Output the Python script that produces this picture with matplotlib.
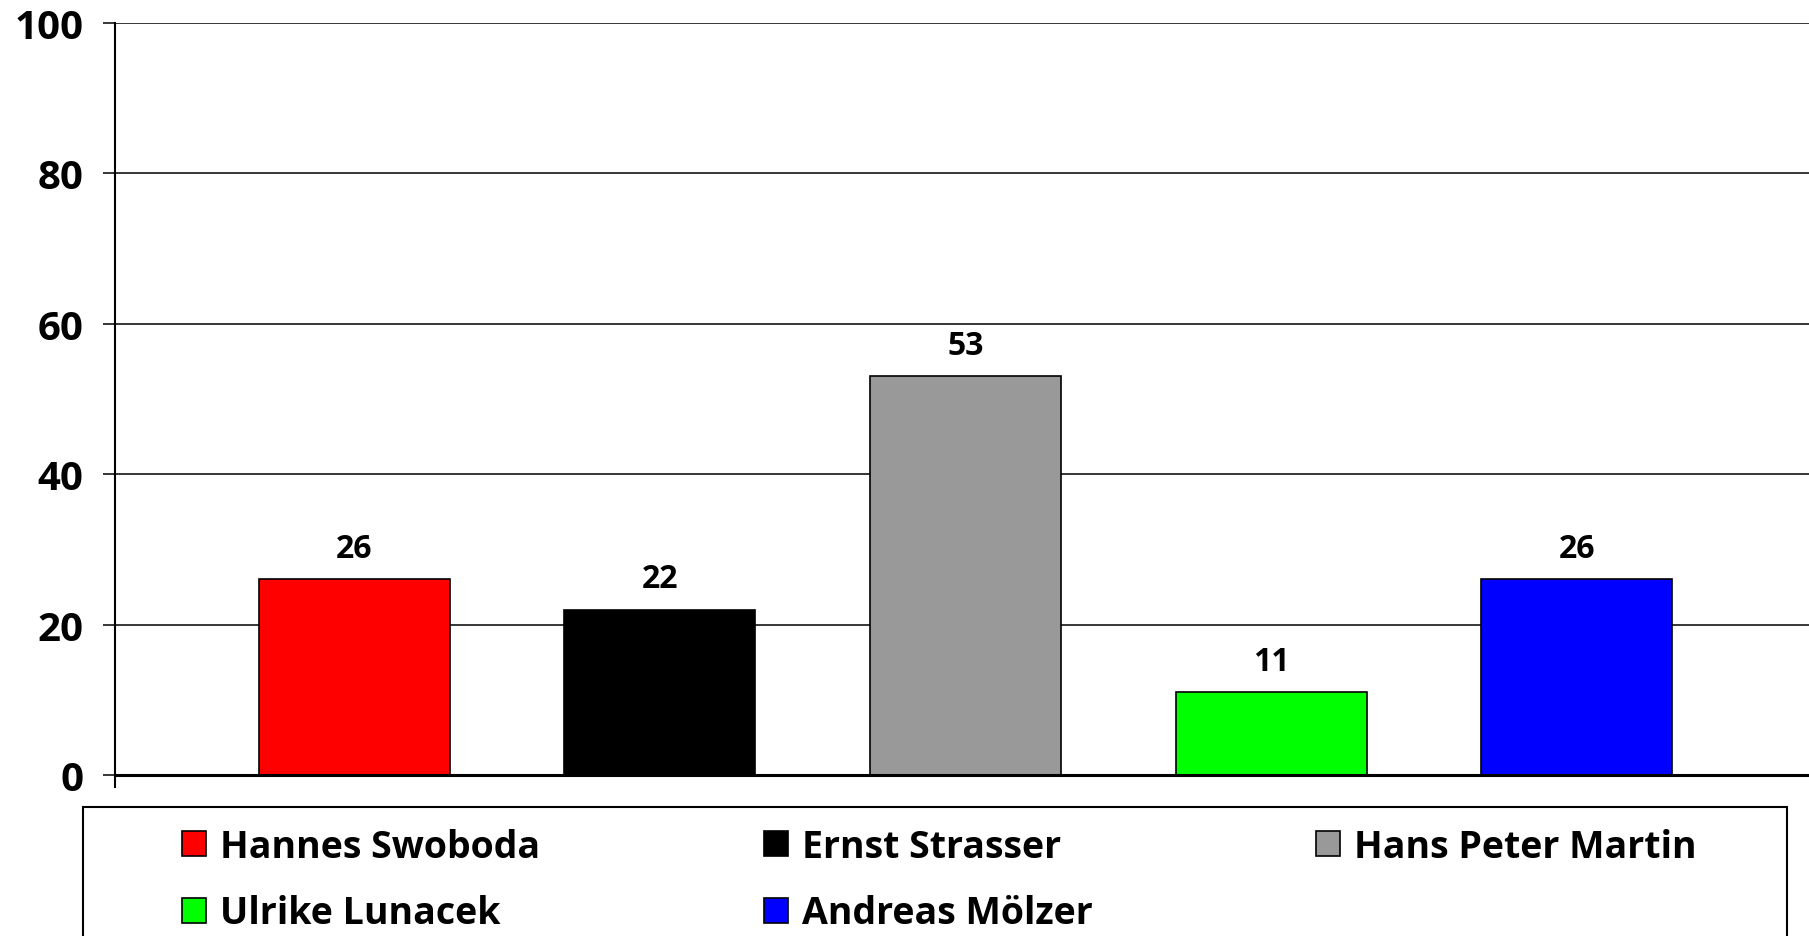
import matplotlib.pyplot as plt
from matplotlib.patches import Rectangle, Patch

candidates = ["Hannes Swoboda", "Ernst Strasser", "Hans Peter Martin",
              "Ulrike Lunacek", "Andreas Mölzer"]
values = [26, 22, 53, 11, 26]
colors = ["#ff0000", "#000000", "#999999", "#00ff00", "#0000ff"]
yticks = [0, 20, 40, 60, 80, 100]

plt.rcParams['font.family'] = ['Open Sans', 'DejaVu Sans']

fig = plt.figure(figsize=(18.09, 9.37), dpi=100)
ax = fig.add_axes([115 / 1809, 149 / 937, 1 - 115 / 1809, (788 - 24) / 937])

x = list(range(len(values)))
ax.bar(x, values, width=0.625, color=colors, edgecolor='black', linewidth=1.2, zorder=3)

for xi, v in zip(x, values):
    ax.annotate(str(v), (xi, v), xytext=(0, 16), textcoords='offset points',
                ha='center', va='baseline', fontsize=23, fontweight='bold')

ax.set_xlim(-0.782, 4.76)
ax.set_ylim(-1.6, 100)
ax.set_yticks(yticks)
ax.set_yticklabels([str(t) for t in yticks], fontsize=29, fontweight='bold')
ax.tick_params(axis='y', length=8.6, width=1.1, pad=14, direction='out')
ax.tick_params(axis='x', bottom=False, labelbottom=False)
ax.grid(axis='y', color='black', linewidth=1.1, zorder=1)
ax.axhline(0, color='black', linewidth=2.2, zorder=4)

for side in ['top', 'right', 'bottom']:
    ax.spines[side].set_visible(False)
ax.spines['left'].set_linewidth(1.5)

# legend frame, runs off the bottom of the figure
fig.patches.append(Rectangle((83 / 1809, -0.05), (1787 - 83) / 1809, 0.05 + 129 / 937,
                             transform=fig.transFigure, fill=False,
                             edgecolor='black', linewidth=1.5))

# legend fills by column, so reorder to read across rows
order = [0, 3, 1, 4, 2]
handles = [Patch(facecolor=colors[i], edgecolor='black', linewidth=1.2) for i in order]
labels = [candidates[i] for i in order]
fig.legend(handles, labels, ncol=3, loc='upper left',
           bbox_to_anchor=(182 / 1809, 1 - 829 / 937), frameon=False,
           prop={'size': 27, 'weight': 'bold'},
           handlelength=0.65, handleheight=0.66, handletextpad=0.37,
           columnspacing=5.95, labelspacing=0.76, borderpad=0, borderaxespad=0)

fig.savefig('out.png', dpi=100)
